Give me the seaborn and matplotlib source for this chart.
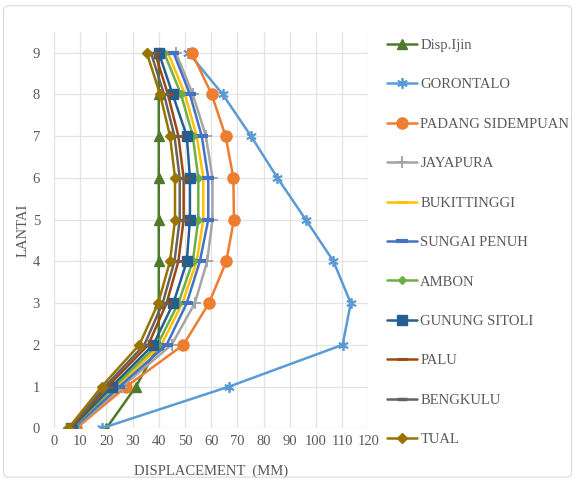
import matplotlib
matplotlib.use("Agg")
import matplotlib.pyplot as plt
from matplotlib.patches import FancyBboxPatch
import seaborn as sns
import pandas as pd

sns.set_theme(style="white")
plt.rcParams["font.family"] = ["Liberation Serif", "DejaVu Serif"]

# Storey numbers (LANTAI)
floors = [0, 1, 2, 3, 4, 5, 6, 7, 8, 9]

# Lateral displacement per storey, mm
disp_ijin = [20.0, 31.3, 40.0, 40.0, 40.0, 40.0, 40.0, 40.0, 40.0, 40.0]
gorontalo = [18.2, 66.9, 110.2, 113.3, 106.7, 96.1, 85.3, 75.2, 64.4, 51.3]
padang_sidempuan = [8.5, 27.6, 49.4, 59.2, 65.8, 68.7, 68.5, 65.5, 60.2, 52.6]
jayapura = [7.8, 26.0, 44.9, 53.8, 58.5, 60.5, 60.5, 58.0, 53.0, 46.5]
bukittinggi = [7.2, 24.0, 41.0, 49.0, 54.5, 57.0, 57.0, 54.5, 50.0, 43.5]
sungai_penuh = [7.4, 25.0, 43.0, 50.7, 55.7, 58.9, 58.9, 56.4, 51.9, 45.6]
ambon = [7.0, 23.0, 39.5, 47.5, 53.0, 55.1, 55.1, 53.0, 48.5, 42.0]
gunung_sitoli = [6.6, 22.0, 37.9, 45.6, 50.7, 51.9, 51.9, 50.7, 45.3, 40.0]
palu = [6.3, 20.5, 36.0, 43.0, 47.5, 49.5, 49.5, 47.5, 43.5, 38.5]
bengkulu = [6.0, 19.5, 34.5, 41.5, 46.0, 48.0, 48.0, 46.0, 42.0, 37.0]
tual = [5.5, 18.2, 32.6, 39.8, 44.3, 46.2, 46.2, 44.3, 40.5, 35.4]

series_names = ["Disp.Ijin", "GORONTALO", "PADANG SIDEMPUAN", "JAYAPURA",
                "BUKITTINGGI", "SUNGAI PENUH", "AMBON", "GUNUNG SITOLI",
                "PALU", "BENGKULU", "TUAL"]
series_values = [disp_ijin, gorontalo, padang_sidempuan, jayapura,
                 bukittinggi, sungai_penuh, ambon, gunung_sitoli,
                 palu, bengkulu, tual]

x_ticks = [0, 10, 20, 30, 40, 50, 60, 70, 80, 90, 100, 110, 120]
y_ticks = floors

# line colour, marker, marker size, marker edge width
styles = {
    "Disp.Ijin":        ("#4E7A2C", "^", 6.5, 1.0),
    "GORONTALO":        ("#5B9BD5", (6, 2, 0), 7.5, 1.3),
    "PADANG SIDEMPUAN": ("#ED7D31", "o", 8, 1.0),
    "JAYAPURA":         ("#A5A5A5", "+", 8, 1.4),
    "BUKITTINGGI":      ("#FFC000", "_", 7, 2.0),
    "SUNGAI PENUH":     ("#4472C4", "_", 9, 3.0),
    "AMBON":            ("#70AD47", "D", 4.5, 1.0),
    "GUNUNG SITOLI":    ("#255E91", "s", 7, 1.0),
    "PALU":             ("#9E480E", "_", 7, 2.0),
    "BENGKULU":         ("#636363", "_", 7, 2.5),
    "TUAL":             ("#997300", "D", 5.5, 1.0),
}

frames = [pd.DataFrame({"Lantai": floors, "Displacement": vals, "Seri": name})
          for name, vals in zip(series_names, series_values)]
df = pd.concat(frames, ignore_index=True)

fig = plt.figure(figsize=(5.75, 4.80), dpi=100)
fig.patch.set_facecolor("white")
ax = fig.add_axes([0.0939, 0.1077, 0.5466, 0.8263])

for name in series_names:
    color, marker, ms, mew = styles[name]
    sub = df[df["Seri"] == name]
    sns.lineplot(data=sub, x="Displacement", y="Lantai", orient="y",
                 sort=False, ax=ax, color=color, linewidth=1.8,
                 marker=marker, markersize=ms, markeredgewidth=mew,
                 markeredgecolor=color, markerfacecolor=color,
                 label=name, legend=False)

ax.set_xlim(0, 120)
ax.set_ylim(0, 9.5)
ax.set_xticks(x_ticks)
ax.set_yticks(y_ticks)
ax.set_xticklabels([str(t) for t in x_ticks])
ax.set_yticklabels([str(t) for t in y_ticks])
ax.grid(True, color="#E3E3E3", linewidth=0.9)
ax.set_axisbelow(True)
for s in ax.spines.values():
    s.set_visible(False)
ax.tick_params(axis="x", length=0, labelsize=10.5, colors="#595959", pad=5)
ax.tick_params(axis="y", length=0, labelsize=10.5, colors="#595959", pad=10)
ax.set_xlabel("DISPLACEMENT  (MM)", fontsize=10.5, color="#595959", labelpad=12)
ax.set_ylabel("LANTAI", fontsize=10.5, color="#595959", labelpad=2)

handles, labels = ax.get_legend_handles_labels()
leg = fig.legend(handles, labels, loc="upper left", bbox_to_anchor=(0.651, 0.947),
                 frameon=False, fontsize=10.5, labelspacing=1.80,
                 handlelength=2.0, handletextpad=0.25, labelcolor="#595959")

# chart-area frame
fig.patches.append(FancyBboxPatch((0.006, 0.006), 0.988, 0.982,
                                  boxstyle="round,pad=0,rounding_size=0.01",
                                  transform=fig.transFigure, fill=False,
                                  edgecolor="#D9D9D9", linewidth=0.8))

fig.savefig("out.png", dpi=100)
